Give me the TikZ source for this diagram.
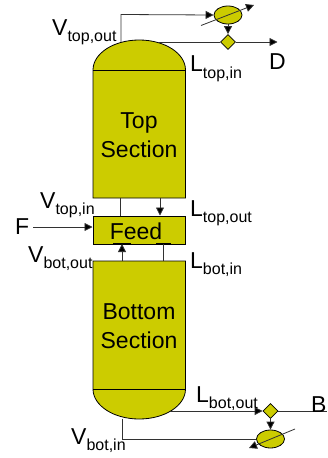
\documentclass[tikz,border=0pt]{standalone}
\usepackage{fontspec}
\setmainfont{Liberation Sans}
\usetikzlibrary{arrows.meta,shapes.geometric}
\definecolor{olive}{RGB}{204,204,0}
\definecolor{lineg}{RGB}{50,50,50}
\newcommand{\lab}[2]{#1{\fontsize{16}{16}\selectfont\raisebox{-6.5pt}{#2}}}
\tikzset{
  x=1pt,y=-1pt,
  vessel/.style={draw=black,line width=0.8pt,fill=olive},
  pipe/.style={draw=lineg,line width=0.8pt},
  flow/.style={pipe,-{Triangle[length=8pt,width=8pt,fill=black]}},
  txt/.style={inner sep=0pt,font=\fontsize{23}{24}\selectfont,text=black},
  title/.style={inner sep=0pt,align=center,font=\fontsize{23}{29}\selectfont,text=black},
  unit/.style={vessel,ellipse,minimum width=28pt,minimum height=18pt,inner sep=0pt},
}
\begin{document}
\begin{tikzpicture}
\useasboundingbox (0,0) rectangle (327,458);
% top section
\path[vessel] (93,198) -- (93,70) .. controls (93,53.4) and (113.7,40) .. (139.2,40) .. controls (164.8,40) and (185.5,53.4) .. (185.5,70) -- (185.5,198) -- cycle;
\draw[vessel,fill=none] (93,70) -- (185.5,70);
\node[title] (top) at (139,135) {Top\\Section};
% bottom section
\path[vessel] (93,261) -- (93,389) .. controls (93,405.6) and (113.7,419) .. (139.2,419) .. controls (164.8,419) and (185.5,405.6) .. (185.5,389) -- (185.5,261) -- cycle;
\draw[vessel,fill=none] (93,389) -- (185.5,389);
\node[title] (bot) at (139,326) {Bottom\\Section};
% feed
\node[vessel,rectangle,minimum width=92.5pt,minimum height=28pt,inner sep=0pt,anchor=north west] (feed) at (92.7,215.5) {};
\node[title] at (136,231) {Feed};
\draw[black,line width=1.2pt] (113,243.6) -- (131,243.6) (156,243.6) -- (171,243.6);
% column connectors
\coordinate (ta) at (120.5,198); \coordinate (tb) at (120.5,215.5);
\coordinate (tc) at (160,198); \coordinate (td) at (160,215.5);
\coordinate (ba) at (122,261); \coordinate (bb) at (122,244);
\coordinate (bc) at (163.5,261); \coordinate (bd) at (163.5,244);
\draw[pipe] (ta) -- (tb);
\draw[flow] (tc) -- (td);
\draw[flow] (ba) -- (bb);
\draw[pipe] (bc) -- (bd);
% feed stream
\coordinate (fs) at (33,227); \coordinate (fe) at (92.5,227);
\draw[flow] (fs) -- (fe);
% top units
\node[unit] (cond) at (228,15) {};
\node[vessel,diamond,minimum width=15pt,minimum height=15pt,inner sep=0pt] (dtop) at (228,42) {};
\coordinate (vt) at (121,42); \coordinate (vc) at (121,14.5);
\draw[flow] (vt) -- (vc) -- (cond.west);
\coordinate (ltop) at (158,42); \coordinate (dend) at (277.5,42);
\draw[pipe] (ltop) -- (dtop.west);
\draw[flow] (dtop.east) -- (dend);
\draw[flow] (cond.south) -- (dtop.north);
\coordinate (s1a) at (201,25.5); \coordinate (s1b) at (254,5);
\draw[flow] (s1a) -- (s1b);
% bottom units
\node[unit] (reb) at (270.5,439) {};
\node[vessel,diamond,minimum width=15pt,minimum height=15pt,inner sep=0pt] (dbot) at (270.5,411) {};
\coordinate (lbot) at (170,411); \coordinate (bend) at (327,411);
\draw[flow] (lbot) -- (dbot.west);
\draw[pipe] (dbot.east) -- (bend);
\draw[flow] (dbot.south) -- (reb.north);
\coordinate (vb) at (122.5,418.5); \coordinate (vd) at (122.5,439);
\draw[pipe] (vb) -- (vd) -- (reb.west);
\coordinate (s2a) at (295,429); \coordinate (s2b) at (249,448);
\draw[flow] (s2a) -- (s2b);
% labels
\node[txt,anchor=base west] (l1) at (52,35) {\lab{V}{top,out}};
\node[txt,anchor=base west] (l2) at (190,71.5) {\lab{L}{top,in}};
\node[txt,anchor=base west] (l3) at (269,69) {D};
\node[txt,anchor=base west] (l4) at (40,208) {\lab{V}{top,in}};
\node[txt,anchor=base west] (l5) at (190,216) {\lab{L}{top,out}};
\node[txt,anchor=base west] (l6) at (15,234) {F};
\node[txt,anchor=base west] (l7) at (28,262) {\lab{V}{bot,out}};
\node[txt,anchor=base west] (l8) at (190,268) {\lab{L}{bot,in}};
\node[txt,anchor=base west] (l9) at (196,402) {\lab{L}{bot,out}};
\node[txt,anchor=base west] (l10) at (311,412) {B};
\node[txt,anchor=base west] (l11) at (71,444) {\lab{V}{bot,in}};
\end{tikzpicture}
\end{document}
